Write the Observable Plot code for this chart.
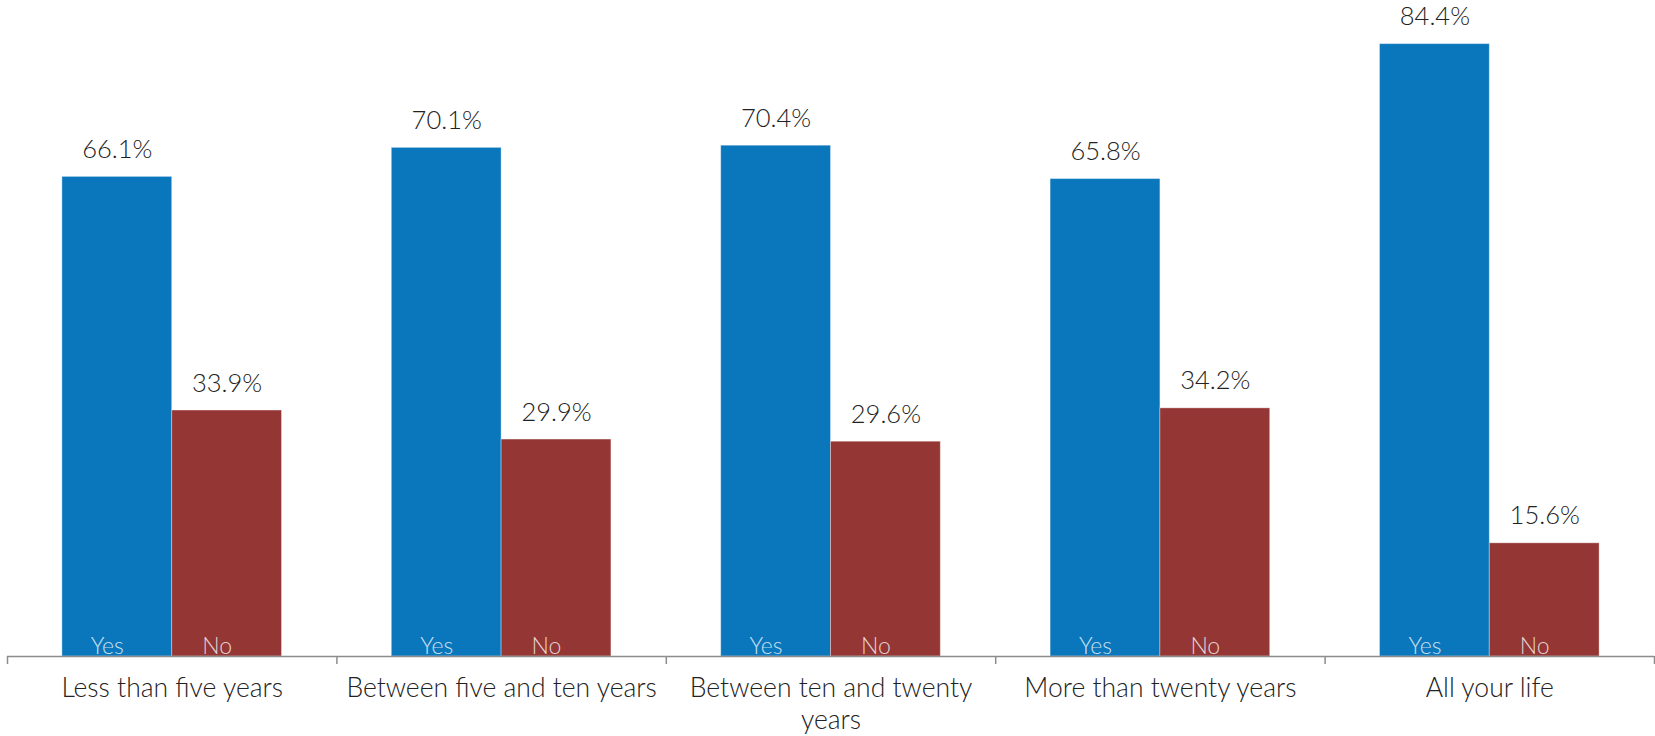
<!DOCTYPE html>
<html>
<head>
<meta charset="utf-8">
<script src="https://cdn.jsdelivr.net/npm/d3@7"></script>
<script src="https://cdn.jsdelivr.net/npm/@observablehq/plot@0.6"></script>
<style>
  html, body { margin: 0; padding: 0; background: #fff; }
  #chart svg { display: block; }
</style>
</head>
<body>
<div id="chart"></div>
<script>
const categories = ["Less than five years", "Between five and ten years", "Between ten and twenty years", "More than twenty years", "All your life"];
const tickLabels = ["Less than five years", "Between five and ten years", "Between ten and twenty\nyears", "More than twenty years", "All your life"];
const answers = ["Yes", "No"];
const yesValues = [66.1, 70.1, 70.4, 65.8, 84.4];
const noValues = [33.9, 29.9, 29.6, 34.2, 15.6];
const colors = ["#0a77bd", "#943634"];

const data = [];
categories.forEach((c, i) => {
  data.push({category: c, answer: "Yes", value: yesValues[i]});
  data.push({category: c, answer: "No", value: noValues[i]});
});

const width = 1655, height = 736;
const marginLeft = 7, marginRight = 1, marginTop = 3, marginBottom = 80;
const step = (width - marginLeft - marginRight) / categories.length;
const font = "Lato, 'Open Sans', 'DejaVu Sans', sans-serif";

const chart = Plot.plot({
  width, height, marginLeft, marginRight, marginTop, marginBottom,
  style: {fontFamily: font, fontWeight: 300, color: "#222", background: "#fff"},
  fx: {domain: categories, paddingInner: 0, paddingOuter: 0, round: false, label: null, axis: null},
  x: {domain: answers, paddingInner: 0, paddingOuter: 0.5, round: false, axis: null},
  y: {domain: [0, 90], axis: null},
  color: {domain: answers, range: colors},
  marks: [
    Plot.barY(data, {fx: "category", x: "answer", y: "value", fill: "answer", stroke: "#ffffff", strokeOpacity: 0.35, strokeWidth: 1}),
    Plot.text(data, {fx: "category", x: "answer", y: "value", text: d => d.value.toFixed(1) + "%", dy: -19, lineAnchor: "bottom", fontSize: 25.5, fill: "#222"}),
    Plot.text(data, {fx: "category", x: "answer", y: 0, text: "answer", dy: -3, dx: -10, lineAnchor: "bottom", fontSize: 23, fill: "#fff", fillOpacity: 0.78}),
    Plot.ruleY([0], {stroke: "#8c8c8c", strokeWidth: 1.5}),
    Plot.axisFx({anchor: "bottom", tickSize: 8, text: null, dx: -step / 2, stroke: "#8c8c8c", strokeWidth: 1.5, label: null}),
    Plot.axisFx({anchor: "bottom", ticks: [categories[categories.length - 1]], tickSize: 8, text: null, dx: step / 2, stroke: "#8c8c8c", strokeWidth: 1.5, label: null}),
    Plot.axisFx({anchor: "bottom", tickSize: 0, tickPadding: 18, tickFormat: d => tickLabels[categories.indexOf(d)], fontSize: 26.5, lineHeight: 1.2, fill: "#222", label: null})
  ]
});
document.getElementById("chart").appendChild(chart);
</script>
</body>
</html>
